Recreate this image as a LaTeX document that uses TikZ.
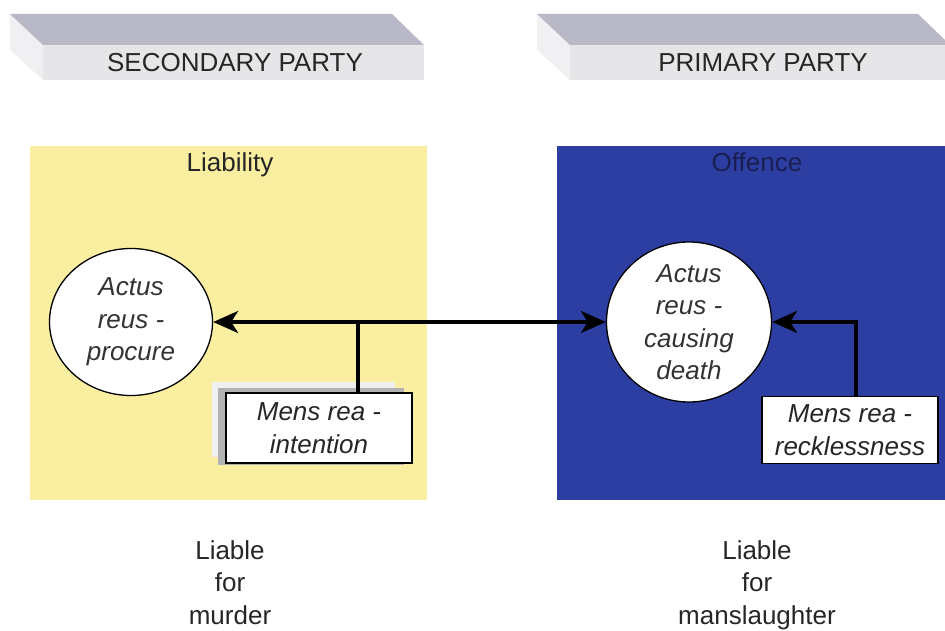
\documentclass[tikz,border=0pt]{standalone}
\usepackage{fontspec}
\setmainfont{Liberation Sans}
\usetikzlibrary{shapes.geometric, positioning, arrows.meta}

\definecolor{PaleYellow}{RGB}{250,239,160}
\definecolor{DeepBlue}{RGB}{44,62,162}
\definecolor{BannerTop}{RGB}{184,184,198}
\definecolor{BannerFront}{RGB}{230,230,233}
\definecolor{BannerSide}{RGB}{240,240,242}

\begin{document}
\begin{tikzpicture}[
		x=1pt, y=-1pt,
		>={Stealth[length=25pt, width=22pt, inset=7pt]},
		TxtCfg/.style={
			font=\fontsize{26}{32.5}\selectfont,
			align=center, inner sep=0pt
		},
		ItCfg/.style={
			TxtCfg, font=\fontsize{26}{32.5}\selectfont\itshape,
			text=black!80
		},
		ActCfg/.style={
			ellipse, draw, fill=white, line width=1.3pt, inner sep=0pt
		},
		MensCfg/.style={
			rectangle, draw, fill=white, line width=1.3pt,
			ItCfg, text=black!85
		},
		LinkCfg/.style={line width=3.5pt}
		]
		
		\useasboundingbox (0,0) rectangle (945,631);
		
		% banners
		\fill[BannerSide] (10,14) -- (43,45) -- (43,80) -- (10,50) -- cycle;
		\fill[BannerTop] (10,14) -- (392,14) -- (424,45) -- (43,45) -- cycle;
		\fill[BannerFront] (43,45) rectangle (424,80);
		\fill[BannerSide] (537,14) -- (570,45) -- (570,80) -- (537,50) -- cycle;
		\fill[BannerTop] (537,14) -- (918,14) -- (945,40) -- (945,45) -- (570,45) -- cycle;
		\fill[BannerFront] (570,45) rectangle (945,80);
		\node[TxtCfg, text=black!85] (secParty) at (235,63) {SECONDARY PARTY};
		\node[TxtCfg, text=black!85] (priParty) at (763,63) {PRIMARY PARTY};
		
		% panels
		\fill[PaleYellow] (30,146) rectangle (427,500);
		\fill[DeepBlue] (557,146) rectangle (945,500);
		\node[TxtCfg, text=black!85, anchor=north] (liab) at (230,152) {Liability};
		\node[TxtCfg, text={rgb,255:red,26;green,30;blue,80}, anchor=north] (offence) at (757,152) {Offence};
		
		% actus reus
		\node[ActCfg, minimum width=163, minimum height=147] (actL) at (131,322) {};
		\node[ItCfg] (actLtxt) at (actL) {Actus\\reus -\\procure};
		\node[ActCfg, minimum width=165, minimum height=160] (actR) at (689,322) {};
		\node[ItCfg] (actRtxt) at (actR) {Actus\\reus -\\causing\\death};
		
		% mens rea
		\fill[gray!12] (212,382) rectangle (395,457);
		\fill[gray!60] (218,388) rectangle (404,465);
		\node[MensCfg, minimum width=186, minimum height=70] (mensL) at (319,428) {Mens rea -\\intention};
		\node[MensCfg, minimum width=176, minimum height=67] (mensR) at (850,430) {Mens rea -\\recklessness};
		
		\coordinate (jL) at (358,322);
		\coordinate (jR) at (856,322);
		
		\draw[LinkCfg, <->] (actL.east) -- (actR.west);
		\draw[LinkCfg] (jL |- mensL.north) -- (jL);
		\draw[LinkCfg, ->] (jR |- mensR.north) -- (jR) -- (actR.east);
		
		% outcomes
		\node[TxtCfg, text=black!85, anchor=north] (outL) at (230,540) {Liable\\for\\murder};
		\node[TxtCfg, text=black!85, anchor=north] (outR) at (757,540) {Liable\\for\\manslaughter};
		\end{tikzpicture}
\end{document}
